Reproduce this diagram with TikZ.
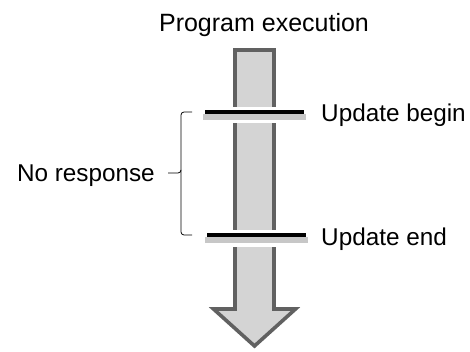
\documentclass[tikz,border=0pt]{standalone}
\usepackage{fontspec}
\setmainfont{Liberation Sans}
\begin{document}
\begin{tikzpicture}[x=1pt,y=-1pt,
  lbl/.style={inner sep=0pt, font=\fontsize{25}{29}\selectfont},
  lbltwo/.style={inner sep=0pt, font=\fontsize{24.3}{28}\selectfont},
  flow/.style={draw=black!62, line width=3.6pt, fill=black!17, line join=miter},
  gapbox/.style={fill=white, draw=none},
  shade/.style={fill=black!22, draw=none},
  mark line/.style={draw=black, line width=3.6pt},
  brace line/.style={draw=black, line width=0.8pt, rounded corners=3pt}]
\useasboundingbox (0,0) rectangle (470,352);
% arrow
\draw[flow] (235,50) -- (274,50) -- (274,309) -- (295.5,309) -- (254.5,346) -- (213.5,309) -- (235,309) -- cycle;
% gaps
\fill[gapbox] (228,107) rectangle (281,123);
\fill[gapbox] (228,230) rectangle (281,247);
% shadows
\fill[shade] (203,114.5) rectangle (306,120);
\fill[shade] (205,237) rectangle (308,242.5);
% lines
\coordinate (b1) at (205,112.3);
\coordinate (b2) at (304,112.3);
\coordinate (e1) at (207,235);
\coordinate (e2) at (306,235);
\draw[mark line] (b1) -- (b2);
\draw[mark line] (e1) -- (e2);
% brace
\coordinate (bt) at (192,112);
\coordinate (bm) at (168,173);
\coordinate (bb) at (192,235);
\draw[brace line] (bt) -- (181,112) -- (181,173) -- (bm);
\draw[brace line] (181,170) -- (181,235) -- (bb);
% texts
\node[lbl, anchor=base] (prog) at (264,31.5) {Program execution};
\node[lbltwo, anchor=base west] (ub) at (321,121.5) {Update begin};
\node[lbltwo, anchor=base west] (ue) at (321,245) {Update end};
\node[lbltwo, anchor=base east] (nr) at (155,181.5) {No response};
\end{tikzpicture}
\end{document}
